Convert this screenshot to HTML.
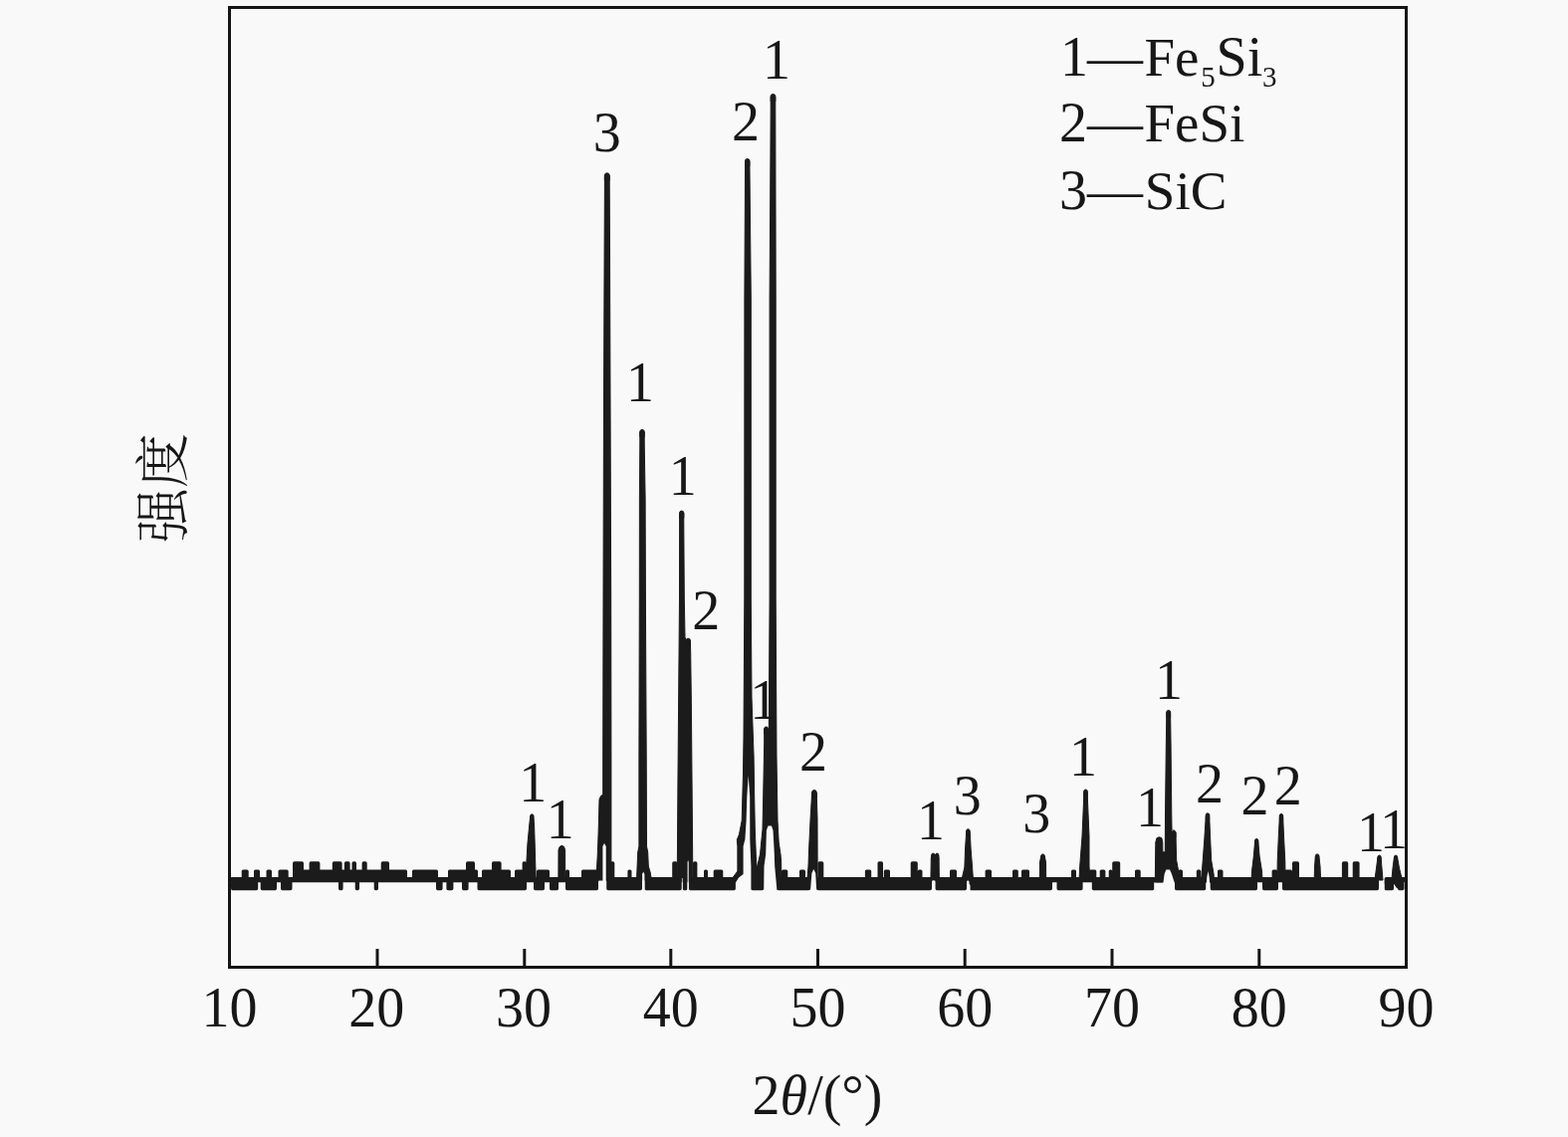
<!DOCTYPE html>
<html lang="zh"><head><meta charset="utf-8"><title>XRD</title>
<style>html,body{margin:0;padding:0;background:#f9f9f9;}body{width:1575px;height:1142px;overflow:hidden;}svg{display:block;}</style>
</head><body>
<svg width="1575" height="1142" viewBox="0 0 1575 1142">
<rect x="0" y="0" width="1575" height="1142" fill="#f9f9f9"/>
<g id="curve" fill="#1b1b1b" stroke="#1b1b1b" stroke-linejoin="round">
<path id="band" d="M232.6,882.6H599.9V884.6H232.6ZM610.5,882.6H643.4V884.6H610.5ZM649.1,882.6H737.2V884.6H649.1ZM756.1,882.6H765.4V884.6H756.1ZM781.9,882.6H812.2V884.6H781.9ZM822.0,882.6H934.8V884.6H822.0ZM940.8,882.6H969.9V884.6H940.8ZM974.6,882.6H1168.0V884.6H974.6ZM1178.6,882.6H1209.7V884.6H1178.6ZM1217.2,882.6H1383.4V884.6H1217.2ZM1392.2,882.6H1410.4V884.6H1392.2ZM233.6,882.6H257.6V892.6H233.6ZM263.3,882.6H276.4V892.6H263.3ZM283.6,882.6H291.9V892.6H283.6ZM341.6,882.6H343.0V892.6H341.6ZM358.3,882.6H359.4V892.6H358.3ZM377.3,882.6H378.4V892.6H377.3ZM439.6,882.6H443.0V892.6H439.6ZM450.0,882.6H453.8V892.6H450.0ZM465.6,882.6H469.0V892.6H465.6ZM481.1,882.6H527.4V892.6H481.1ZM537.6,882.6H545.4V892.6H537.6ZM553.6,882.6H559.4V892.6H553.6ZM569.6,882.6H599.4V892.6H569.6ZM610.8,882.6H643.4V892.6H610.8ZM649.1,882.6H683.2V892.6H649.1ZM687.3,882.6H688.9V892.6H687.3ZM693.4,882.6H737.4V892.6H693.4ZM756.1,882.6H765.4V892.6H756.1ZM781.9,882.6H812.1V892.6H781.9ZM822.1,882.6H934.4V892.6H822.1ZM941.1,882.6H969.4V892.6H941.1ZM975.1,882.6H1055.4V892.6H975.1ZM1063.1,882.6H1086.0V892.6H1063.1ZM1098.4,882.6H1157.8V892.6H1098.4ZM1181.6,882.6H1209.7V892.6H1181.6ZM1217.2,882.6H1261.4V892.6H1217.2ZM1269.6,882.6H1282.4V892.6H1269.6ZM1289.6,882.6H1383.4V892.6H1289.6ZM1392.2,882.6H1398.4V892.6H1392.2ZM1405.6,882.6H1408.9V892.6H1405.6ZM244.3,875.0H248.1V884.6H244.3ZM256.6,875.0H259.4V884.6H256.6ZM269.1,875.0H271.4V884.6H269.1ZM281.1,875.0H288.1V884.6H281.1ZM295.6,875.0H407.4V884.6H295.6ZM415.6,875.0H438.4V884.6H415.6ZM451.6,875.0H478.4V884.6H451.6ZM485.6,875.0H511.4V884.6H485.6ZM518.6,875.0H527.4V884.6H518.6ZM540.6,875.0H550.4V884.6H540.6ZM569.6,875.0H570.4V884.6H569.6ZM585.6,875.0H599.4V884.6H585.6ZM632.0,875.0H632.9V884.6H632.0ZM708.6,875.0H709.4V884.6H708.6ZM718.3,875.0H724.7V884.6H718.3ZM786.6,875.0H789.7V884.6H786.6ZM804.6,875.0H807.4V884.6H804.6ZM870.5,875.0H873.6V884.6H870.5ZM889.4,875.0H892.4V884.6H889.4ZM923.4,875.0H924.9V884.6H923.4ZM955.6,875.0H959.4V884.6H955.6ZM991.2,875.0H994.4V884.6H991.2ZM1018.6,875.0H1021.2V884.6H1018.6ZM1027.6,875.0H1032.4V884.6H1027.6ZM1077.6,875.0H1079.4V884.6H1077.6ZM1095.6,875.0H1099.7V884.6H1095.6ZM1106.3,875.0H1108.8V884.6H1106.3ZM1115.3,875.0H1115.7V884.6H1115.3ZM1141.6,875.0H1144.1V884.6H1141.6ZM1185.0,875.0H1186.4V884.6H1185.0ZM1203.4,875.0H1204.8V884.6H1203.4ZM1224.6,875.0H1226.9V884.6H1224.6ZM1279.2,875.0H1281.7V884.6H1279.2ZM1291.6,875.0H1296.4V884.6H1291.6ZM295.6,866.9H303.4V884.6H295.6ZM312.2,866.9H319.8V884.6H312.2ZM335.4,866.9H342.0V884.6H335.4ZM347.5,866.9H350.0V884.6H347.5ZM355.1,866.9H356.4V884.6H355.1ZM365.2,866.9H367.1V884.6H365.2ZM384.3,866.9H389.4V884.6H384.3ZM469.6,866.9H475.4V884.6H469.6ZM495.6,866.9H502.0V884.6H495.6ZM526.2,866.9H527.4V884.6H526.2ZM614.6,866.9H615.7V884.6H614.6ZM676.8,866.9H678.9V884.6H676.8ZM697.6,866.9H698.8V884.6H697.6ZM823.1,866.9H825.7V884.6H823.1ZM883.1,866.9H885.4V884.6H883.1ZM916.3,866.9H920.2V884.6H916.3ZM1118.8,866.9H1123.6V884.6H1118.8ZM1121.6,866.9H1122.4V884.6H1121.6ZM1299.6,866.9H1303.4V884.6H1299.6ZM1349.5,866.9H1352.6V884.6H1349.5ZM1360.3,866.9H1364.0V884.6H1360.3Z" stroke-width="3.2"/>
<path id="peaks" d="M528.3,884.0L528.9,866.0L529.9,848.0L531.7,829.0L532.8,819.3L532.8,819.3L535.8,819.3L536.6,829.0L537.2,848.0L537.7,866.0L538.3,884.0ZM560.9,884.0L561.0,853.5L562.1,850.6L563.5,849.6L565.1,849.6L566.5,850.6L567.6,853.5L567.7,884.0ZM598.0,884.0L599.5,872.0L600.2,860.0L600.8,845.0L601.3,830.0L602.0,803.0L603.5,799.5L605.7,798.0L605.7,760.0L606.0,600.0L606.5,400.0L607.1,250.0L607.4,185.0L607.4,176.2L607.4,176.2L612.2,176.2L612.2,185.0L612.5,250.0L613.0,400.0L613.7,600.0L613.9,760.0L613.9,884.0ZM639.5,884.0L640.1,870.0L640.7,856.0L641.9,850.0L641.9,760.0L642.3,600.0L642.4,500.0L642.8,445.0L642.8,433.7L647.2,433.7L647.2,433.7L647.2,445.0L648.1,500.0L648.4,600.0L649.2,760.0L649.5,850.0L650.7,856.0L651.3,870.0L653.1,876.0L654.5,884.0ZM680.3,884.0L680.4,863.0L680.5,850.0L680.9,790.0L682.5,600.0L682.6,525.0L682.6,515.2L686.8,515.2L686.8,515.2L686.8,525.0L687.3,600.0L688.0,640.0L689.2,643.4L689.2,643.4L693.4,643.4L693.7,655.0L694.3,700.0L695.1,790.0L695.6,850.0L695.8,884.0ZM736.0,886.0L736.0,881.5L740.9,875.0L740.9,850.0L740.3,843.4L742.5,838.0L745.2,824.0L746.5,776.0L747.0,740.0L747.8,600.0L747.9,300.0L748.5,172.0L748.5,161.7L748.5,161.7L752.9,161.7L753.0,172.0L754.3,300.0L754.3,600.0L755.0,700.0L757.1,760.0L757.7,800.0L758.3,833.0L759.5,864.0L761.5,885.0L761.5,893.0L754.0,893.0ZM755.0,893.0L755.5,880.0L760.5,871.0L763.5,858.0L766.0,833.0L766.7,800.0L767.7,745.0L767.7,731.9L771.5,731.9L771.5,731.9L772.3,731.9L772.5,700.0L773.1,600.0L773.1,300.0L773.7,200.0L774.2,107.0L774.2,96.8L774.2,96.8L778.8,96.8L778.8,107.0L779.0,200.0L779.2,300.0L779.2,600.0L780.0,760.0L781.0,824.0L782.2,846.0L784.0,858.0L784.7,866.0L784.7,893.0L767.5,893.0ZM810.0,893.0L812.0,870.0L812.6,853.0L814.1,822.0L815.4,800.0L815.6,796.0L815.6,795.9L820.2,796.0L821.0,822.0L821.1,864.0L821.1,893.0ZM934.9,884.0L935.3,862.0L935.8,858.6L939.0,858.6L939.7,858.6L939.7,858.6L942.7,858.6L943.1,862.0L943.4,884.0ZM965.9,884.0L968.9,871.0L969.6,852.0L970.4,840.0L970.8,834.3L974.0,834.3L974.0,834.3L974.5,840.0L975.1,852.0L976.5,870.0L977.5,884.0ZM1044.3,884.0L1044.5,866.0L1045.8,859.6L1049.2,859.6L1049.2,859.6L1050.5,866.0L1050.7,884.0ZM1084.0,884.0L1084.7,870.0L1087.0,840.0L1088.5,805.0L1088.8,794.7L1088.8,794.7L1092.2,794.7L1092.5,805.0L1094.0,840.0L1094.0,870.0L1095.0,884.0ZM1160.3,886.0L1160.5,870.0L1160.8,846.0L1162.0,841.6L1164.4,840.8L1166.8,841.6L1167.8,846.0L1167.9,855.8L1170.3,855.8L1170.5,820.0L1171.3,750.0L1171.8,715.3L1171.8,715.3L1175.6,715.3L1176.1,750.0L1176.8,820.0L1177.1,836.1L1179.0,833.6L1181.0,836.1L1181.3,850.0L1181.7,864.0L1183.5,874.0L1185.9,880.0L1185.9,886.0ZM1206.5,886.0L1208.1,866.0L1209.8,843.0L1211.3,819.0L1214.7,818.5L1214.7,819.0L1215.7,843.0L1216.7,864.0L1219.1,878.0L1219.5,886.0ZM1257.0,884.0L1257.5,875.0L1259.3,860.0L1260.7,844.0L1263.7,844.0L1263.7,844.0L1265.1,860.0L1267.5,875.0L1268.0,884.0ZM1283.0,884.0L1283.2,865.0L1284.3,840.0L1285.4,819.1L1288.6,819.1L1288.6,819.1L1289.5,840.0L1290.8,865.0L1291.0,884.0ZM1320.2,884.0L1320.5,870.0L1321.4,860.0L1324.8,859.6L1324.8,860.0L1326.0,870.0L1326.6,884.0ZM1380.9,884.0L1382.5,872.0L1384.0,860.6L1387.0,860.6L1387.0,860.6L1388.0,872.0L1389.0,884.0ZM1397.9,884.0L1399.0,872.0L1400.5,860.6L1403.5,860.6L1403.5,860.6L1405.5,872.0L1408.0,882.0L1409.5,892.0L1403.5,892.0ZM532.8,824.3V819.3A1.5,1.5 0 0 1 535.8,819.3V824.3ZM607.4,181.2V176.2A2.4,2.4 0 0 1 612.2,176.2V181.2ZM642.8,438.7V433.7A2.2,2.2 0 0 1 647.2,433.7V438.7ZM682.6,520.2V515.2A2.1,2.1 0 0 1 686.8,515.2V520.2ZM689.2,648.4V643.4A2.1,2.1 0 0 1 693.4,643.4V648.4ZM748.5,166.7V161.7A2.2,2.2 0 0 1 752.9,161.7V166.7ZM767.7,736.9V731.9A1.9,1.9 0 0 1 771.5,731.9V736.9ZM774.2,101.8V96.8A2.3,2.3 0 0 1 778.8,96.8V101.8ZM815.6,800.9V795.9A2.3,2.3 0 0 1 820.2,795.9V800.9ZM935.8,863.6V858.6A1.5,1.5 0 0 1 938.8,858.6V863.6ZM939.7,863.6V858.6A1.5,1.5 0 0 1 942.7,858.6V863.6ZM970.8,839.3V834.3A1.6,1.6 0 0 1 974.0,834.3V839.3ZM1045.8,864.6V859.6A1.7,1.7 0 0 1 1049.2,859.6V864.6ZM1088.8,799.7V794.7A1.7,1.7 0 0 1 1092.2,794.7V799.7ZM1171.8,720.3V715.3A1.9,1.9 0 0 1 1175.6,715.3V720.3ZM1178.2,841.1V836.1A1.4,1.4 0 0 1 1181.0,836.1V841.1ZM1211.3,823.5V818.5A1.7,1.7 0 0 1 1214.7,818.5V823.5ZM1260.7,849.0V844.0A1.5,1.5 0 0 1 1263.7,844.0V849.0ZM1285.4,824.1V819.1A1.6,1.6 0 0 1 1288.6,819.1V824.1ZM1321.4,864.6V859.6A1.7,1.7 0 0 1 1324.8,859.6V864.6ZM1384.0,865.6V860.6A1.5,1.5 0 0 1 1387.0,860.6V865.6ZM1400.5,865.6V860.6A1.5,1.5 0 0 1 1403.5,860.6V865.6Z" stroke-width="1.0"/>
</g>
<path id="notches" d="M605.4,896.0L605.4,850.0L607.0,847.0L608.7,850.0L608.7,896.0ZM645.1,896.0L645.1,878.0L646.2,875.5L647.4,878.0L647.4,896.0ZM690.6,896.0L690.6,866.0L691.1,864.0L691.7,866.0L691.7,896.0ZM684.9,896.0L684.9,882.0L685.6,882.0L685.6,896.0ZM738.9,896.0L738.9,886.5L742.0,881.5L746.6,878.0L746.6,850.0L748.4,843.0L749.6,824.0L750.3,800.0L751.7,779.0L753.2,800.0L753.3,843.0L754.4,870.0L754.4,896.0ZM767.2,896.0L767.5,870.0L769.2,858.0L769.9,834.0L771.5,829.5L775.0,829.5L776.5,834.0L777.2,846.0L777.8,858.0L778.2,870.0L780.2,892.0L780.2,896.0ZM813.9,896.0L815.4,877.0L817.3,873.0L819.2,877.0L820.3,896.0ZM936.5,896.0L936.5,886.0L937.8,884.0L939.1,886.0L939.1,896.0ZM971.9,896.0L971.9,889.0L973.2,887.5L974.5,889.0L974.5,896.0ZM1159.5,896.0L1159.5,887.0L1168.4,887.0L1169.6,878.0L1171.3,873.5L1175.0,873.5L1176.6,877.0L1179.9,887.0L1179.9,896.0ZM1211.3,896.0L1212.3,881.0L1213.5,875.0L1214.7,881.0L1215.6,896.0ZM1385.2,896.0L1385.2,888.0L1387.8,886.0L1390.4,888.0L1390.4,896.0Z" fill="#f9f9f9"/>
<rect id="frame" x="230.5" y="7.5" width="1182.0" height="964.0" fill="none" stroke="#151515" stroke-width="3"/>
<g id="ticks" stroke="#151515" stroke-width="3">
<line x1="379.0" y1="953" x2="379.0" y2="971"/>
<line x1="526.8" y1="953" x2="526.8" y2="971"/>
<line x1="673.8" y1="953" x2="673.8" y2="971"/>
<line x1="821.5" y1="953" x2="821.5" y2="971"/>
<line x1="969.2" y1="953" x2="969.2" y2="971"/>
<line x1="1117.0" y1="953" x2="1117.0" y2="971"/>
<line x1="1264.8" y1="953" x2="1264.8" y2="971"/>
</g>
<g id="ticklabels" font-family="'Liberation Serif', 'Noto Serif CJK SC', serif" font-size="56" fill="#171717" text-anchor="middle">
<text x="230.5" y="1031">10</text>
<text x="378.2" y="1031">20</text>
<text x="526.0" y="1031">30</text>
<text x="673.8" y="1031">40</text>
<text x="821.5" y="1031">50</text>
<text x="969.2" y="1031">60</text>
<text x="1117.0" y="1031">70</text>
<text x="1264.8" y="1031">80</text>
<text x="1412.5" y="1031">90</text>
</g>
<g id="peaklabels" font-family="'Liberation Serif', 'Noto Serif CJK SC', serif" font-size="56" fill="#171717" text-anchor="middle">
<text x="535.3" y="805">1</text>
<text x="562.8" y="842">1</text>
<text x="609.8" y="152">3</text>
<text x="643" y="403">1</text>
<text x="685.8" y="497">1</text>
<text x="709.3" y="632">2</text>
<text x="749" y="141">2</text>
<text x="767.3" y="722">1</text>
<text x="780" y="79">1</text>
<text x="817" y="774">2</text>
<text x="935" y="843">1</text>
<text x="971.7" y="818">3</text>
<text x="1041.2" y="836">3</text>
<text x="1088" y="779">1</text>
<text x="1155" y="830">1</text>
<text x="1174" y="702">1</text>
<text x="1215" y="806">2</text>
<text x="1260.4" y="818">2</text>
<text x="1293.7" y="808">2</text>
<text x="1377" y="855">1</text>
<text x="1400" y="852">1</text>
</g>
<text id="xlabel" x="821" y="1119" font-family="'Liberation Serif', 'Noto Serif CJK SC', serif" font-size="56" fill="#171717" text-anchor="middle">2<tspan font-style="italic">θ</tspan>/(°)</text>
<text id="ylabel" transform="translate(183,490) rotate(-90)" font-family="'Noto Serif CJK SC', 'Liberation Serif', serif" font-size="55" font-weight="300" fill="#171717" text-anchor="middle">强度</text>
<g id="legend" font-family="'Liberation Serif', 'Noto Serif CJK SC', serif" font-size="56" fill="#171717">
<text y="76"><tspan x="1065">1</tspan><tspan x="1092">—</tspan><tspan x="1149.5" font-size="55">Fe</tspan><tspan x="1206.3" y="87" font-size="29">5</tspan><tspan x="1221.5" y="76">Si</tspan><tspan x="1268" y="87" font-size="29">3</tspan></text>
<text y="142"><tspan x="1064">2</tspan><tspan x="1092">—</tspan><tspan x="1149.5" font-size="55">FeSi</tspan></text>
<text y="210"><tspan x="1064">3</tspan><tspan x="1092">—</tspan><tspan x="1149.8" font-size="55">SiC</tspan></text>
</g>
</svg>
</body></html>
